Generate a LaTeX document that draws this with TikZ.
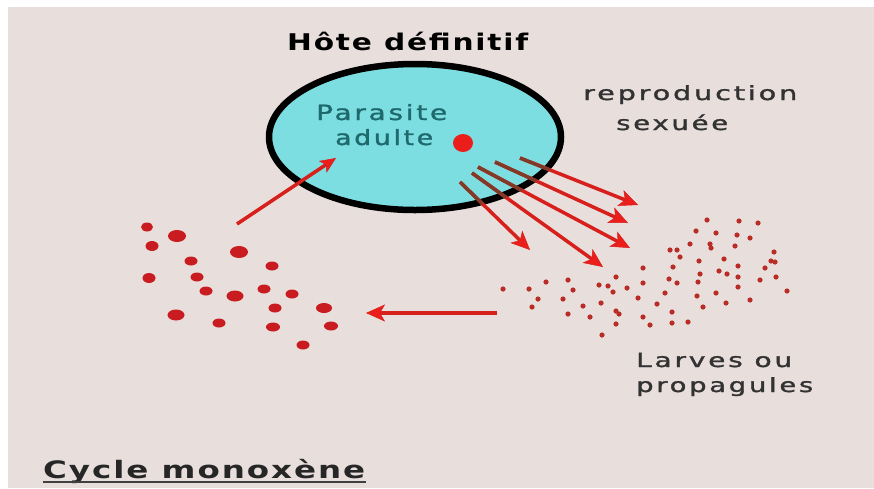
\documentclass[tikz,border=0pt]{standalone}
\usepackage{fontspec}
\usepackage{graphicx}
\setmainfont{DejaVu Sans}
\newfontfamily\lblfont[LetterSpace=10,FakeBold=1.3]{DejaVu Sans}
\newfontfamily\ttlfont[LetterSpace=6]{DejaVu Sans}
\newcommand\fitw[2]{\resizebox{#1}{\height}{#2}}
\usetikzlibrary{arrows.meta,shapes.geometric,calc}
\definecolor{bgpink}{RGB}{232,223,221}
\definecolor{hostcyan}{RGB}{125,222,225}
\definecolor{arrred}{RGB}{215,32,28}
\definecolor{headred}{RGB}{235,30,28}
\definecolor{dotred}{RGB}{200,28,32}
\definecolor{larvred}{RGB}{185,45,38}
\definecolor{stembrown}{RGB}{130,58,40}
\definecolor{tealtxt}{RGB}{30,105,108}
\definecolor{graytxt}{RGB}{50,50,50}
\tikzset{
  redarrow/.style={draw=arrred, line width=3.5pt, -{Stealth[length=19pt,width=17pt,inset=5pt,fill=headred,line width=0.5pt]}},
  stem/.style={draw=stembrown, line width=3.5pt},
  lbl/.style={inner sep=0pt, anchor=base west, text=graytxt, font=\lblfont\fontsize{19.5}{21}\selectfont},
  partxt/.style={inner sep=0pt, anchor=base west, text=tealtxt, font=\lblfont\fontsize{21}{23}\selectfont},
}
\begin{document}
\begin{tikzpicture}[x=1pt,y=-1pt]
\useasboundingbox (0,0) rectangle (874,488);
\fill[white] (0,0) rectangle (874,488);
\fill[bgpink] (8,7) rectangle (874,488);

% host
\node[draw=black, line width=6.5pt, fill=hostcyan, shape=ellipse, minimum width=292pt, minimum height=146pt, inner sep=0pt] (host) at (415,137) {};
\node[partxt] (par1) at (316,120) {\fitw{131pt}{Parasite}};
\node[partxt] (par2) at (335,145) {\fitw{98pt}{adulte}};
\fill[headred] (463,143) ellipse (10pt and 9pt);
\node[circle, inner sep=0pt, minimum size=18pt] (egg) at (463,143) {};

% title
\node[inner sep=0pt, anchor=base west, text=black, font=\ttlfont\bfseries\fontsize{23}{25}\selectfont] (title) at (287,50) {\fitw{241pt}{Hôte définitif}};

% labels
\node[lbl] (rep1) at (583,100) {\fitw{214pt}{reproduction}};
\node[lbl] (rep2) at (616,130) {\fitw{112pt}{sexuée}};
\node[lbl] (lar1) at (636,367) {\fitw{156pt}{Larves ou}};
\node[lbl] (lar2) at (636,392) {\fitw{177pt}{propagules}};

\node[inner sep=0pt, anchor=base west, text=black!85, font=\ttlfont\bfseries\fontsize{24}{26}\selectfont] (cycle) at (43,478) {\fitw{322pt}{Cycle monoxène}};
\coordinate (ulS) at (43,482);
\coordinate (ulE) at (366,482);
\draw[black!75, line width=2.5pt] (ulS) -- (ulE);

% inward arrow
\coordinate (inS) at (237,224);
\coordinate (inE) at (336,158);
\draw[redarrow, -{Stealth[length=16pt,width=14pt,inset=4pt,fill=headred,line width=0.5pt]}] (inS) -- (inE);

% outgoing arrows
\foreach \i/\sx/\sy/\ex/\ey/\t in {1/460/182/530/250/0.32, 2/472/173/603/267/0.26, 3/478/167/630/248/0.29, 4/495/162/628/223/0.31, 5/520/158/638/205/0.25}{
  \coordinate (oS\i) at (\sx,\sy);
  \coordinate (oE\i) at (\ex,\ey);
  \draw[redarrow] (oS\i) -- (oE\i);
  \draw[stem] (oS\i) -- ($(oS\i)!\t!(oE\i)$);
}

% return arrow
\coordinate (rS) at (497,313);
\coordinate (rE) at (366,313);
\draw[redarrow] (rS) -- (rE);

% left cluster
\foreach \x/\y/\a/\b in {147/227/6/4.5, 177/236/9/6, 152/246/6.5/5, 239/252/9/6, 191/261/6.5/4.5, 272/266/6.5/4.5, 149/278/6.5/5, 197/277/6.5/4.5, 206/291/6.5/4.5, 235/296/8.5/5.5, 264/289/6.5/4.5, 292/294/6.5/4.5, 275/308/6.5/4.5, 324/308/8/5, 176/315/8.5/5.5, 219/323/6.5/4.5, 273/327/7/4.5, 331/326/7/4.5, 303/345/6.5/4.5}{
  \fill[dotred] (\x,\y) ellipse (\a pt and \b pt);
}

% right cluster
\foreach \x/\y in {707/220, 739/221, 758/223, 696/231, 716/233, 737/235, 750/238, 690/244, 710/244, 735/246, 670/250, 677/250, 711/248, 774/252, 680/257, 724/259, 699/261, 771/261, 775/262, 673/267, 738/266, 765/268, 643/268, 719/271, 727/274, 700/274, 776/277, 616/277, 738/277, 669/279, 760/280, 546/282, 568/280, 643/283, 677/283, 698/282, 599/285, 608/286, 627/288, 503/289, 529/289, 573/290, 738/287, 613/292, 665/293, 716/293, 787/291, 538/299, 563/299, 638/298, 697/296, 601/303, 583/306, 657/304, 726/303, 750/300, 703/307, 532/307, 616/311, 619/314, 568/314, 590/317, 643/317, 672/312, 688/322, 616/324, 650/325, 672/323, 602/335}{
  \fill[larvred] (\x,\y) circle (2.6pt);
}
\end{tikzpicture}
\end{document}
